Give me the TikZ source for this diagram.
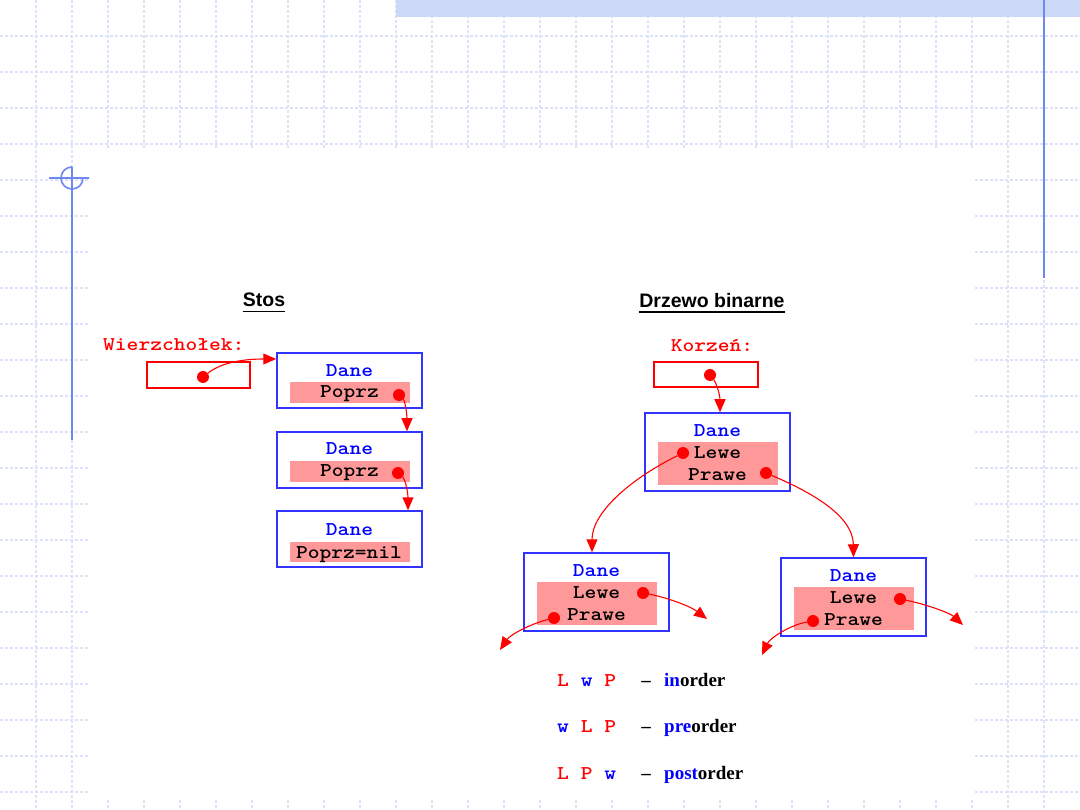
\documentclass[tikz,border=0pt]{standalone}
\usepackage{fontspec}
\setmainfont{Liberation Serif}
\newfontfamily\monof{Latin Modern Mono Light}[FakeStretch=1.15]
\newfontfamily\sansf{Liberation Sans}
\usetikzlibrary{arrows.meta}
\definecolor{ramka}{HTML}{3333FF}
\definecolor{pole}{HTML}{FF9999}
\definecolor{siatka}{HTML}{DCE3F8}
\definecolor{pasek}{HTML}{CCD8F8}
\definecolor{ozdoba}{HTML}{6F87F2}
\tikzset{
  rec/.style={draw=ramka,line width=1.5pt,minimum width=145pt,inner sep=0pt},
  fld/.style={fill=pole,minimum width=120pt,inner sep=0pt},
  ptrbox/.style={draw=red,line width=1.3pt,minimum width=103pt,minimum height=26pt,inner sep=0pt},
  mono/.style={font=\monof\bfseries\fontsize{19.5}{22}\selectfont,inner sep=0pt,anchor=base},
  dane/.style={mono,text=blue},
  dot/.style={circle,fill=red,inner sep=0pt,minimum size=12pt},
  link/.style={red,line width=1.1pt,-{Triangle[length=13pt,width=11pt]}},
  title/.style={font=\sansf\bfseries\fontsize{19.5}{22}\selectfont,inner sep=0pt,anchor=base},
  word/.style={font=\bfseries\fontsize{19}{22}\selectfont,inner sep=0pt,anchor=base west},
  grid line/.style={siatka,line width=1.2pt,dash pattern=on 3pt off 2pt},
}
\newcommand{\rekord}[4]{% name, x, y, height
  \node[rec,minimum height=#4pt] (#1) at (#2,#3) {};
  \node[fld,minimum height=#4pt-35pt] (#1f) at (#2+0.5,#3+11.5) {};}

\begin{document}
\begin{tikzpicture}[x=1pt,y=-1pt]
  \useasboundingbox (0,0) rectangle (1080,810);
  \fill[white] (0,0) rectangle (1080,810);
  \foreach \y in {36,72,...,792} \draw[grid line] (0,\y) -- (1080,\y);
  \foreach \x in {36,72,...,1044} \draw[grid line] (\x,0) -- (\x,810);
  \fill[white] (90,148) rectangle (973,800);
  \fill[pasek] (396,0) rectangle (1080,17);
  \draw[ozdoba,line width=2pt] (1044,0) -- (1044,278);
  \draw[ozdoba,line width=1.6pt] (72,167) arc[start angle=90,end angle=360,radius=11pt]
    (49,178) -- (89,178) (72,167) -- (72,440);

  % stos
  \node[title] (stos) at (264,307) {Stos};
  \draw[line width=1.5pt] ([yshift=-4.5pt]stos.base west) -- ([yshift=-4.5pt]stos.base east);
  \node[mono,text=red,anchor=base west] (wierz) at (103,351) {Wierzchołek:};
  \node[ptrbox] (wptr) at (198.5,375) {};
  \node[dot] (wdot) at (203,377) {};

  \node[rec,minimum height=55pt] (s1) at (349.5,380.5) {};
  \node[fld,minimum height=21pt] (s1f) at (350,392.5) {};
  \node[dane] at (349.5,377) {Dane};
  \node[mono] at (349.5,398) {Poprz};
  \node[dot] (s1dot) at (399,395) {};

  \node[rec,minimum height=56pt] (s2) at (349.5,460) {};
  \node[fld,minimum height=21pt] (s2f) at (350,471.5) {};
  \node[dane] at (349.5,454) {Dane};
  \node[mono] at (349.5,476.5) {Poprz};
  \node[dot] (s2dot) at (398,473) {};

  \node[rec,minimum height=56pt] (s3) at (349.5,539) {};
  \node[fld,minimum height=20pt] (s3f) at (350,552) {};
  \node[dane] at (349.5,535) {Dane};
  \node[mono] at (349,558) {Poprz=nil};

  \draw[link] (wdot) .. controls (222,362) and (245,359) .. ([yshift=21.5pt]s1.west);
  \draw[link] (s1dot) .. controls (405,401) and (407,414) .. ([xshift=57.5pt]s2.north);
  \draw[link] (s2dot) .. controls (405,479) and (408,492) .. ([xshift=58.5pt]s3.north);

  % drzewo
  \node[title] (drzewo) at (712,307.5) {Drzewo binarne};
  \draw[line width=1.5pt] ([yshift=-4.5pt]drzewo.base west) -- ([yshift=-4.5pt]drzewo.base east);
  \node[mono,text=red] (korzen) at (712,352) {Korzeń:};
  \node[ptrbox,minimum width=104pt,minimum height=25pt] (kptr) at (706,374.5) {};
  \node[dot] (kdot) at (710,375) {};

  \rekord{root}{717.5}{452}{78}
  \node[dane] at (717.5,436.5) {Dane};
  \node[mono] at (717.5,458) {Lewe};
  \node[mono] at (717.5,480) {Prawe};
  \node[dot] (rootL) at (683,453) {};
  \node[dot] (rootP) at (766,473) {};

  \rekord{lc}{596.5}{592}{78}
  \node[dane] at (596.5,576) {Dane};
  \node[mono] at (596.5,598) {Lewe};
  \node[mono] at (596.5,620.5) {Prawe};
  \node[dot] (lcL) at (643,593) {};
  \node[dot] (lcP) at (554,618) {};

  \rekord{rc}{853.5}{597}{78}
  \node[dane] at (853.5,581) {Dane};
  \node[mono] at (853.5,603) {Lewe};
  \node[mono] at (853.5,625.5) {Prawe};
  \node[dot] (rcL) at (900,599) {};
  \node[dot] (rcP) at (813,621) {};

  \coordinate (lcLend) at (707,619);
  \coordinate (lcPend) at (500,650);
  \coordinate (rcLend) at (963,625);
  \coordinate (rcPend) at (762,655);

  \draw[link] (kdot) .. controls (717,384) and (720,396) .. ([xshift=2.5pt]root.north);
  \draw[link] (rootL) .. controls (632,478) and (592,512) .. ([xshift=-4.5pt]lc.north);
  \draw[link] (rootP) .. controls (806,490) and (853,514) .. (rc.north);
  \draw[link] (lcL) .. controls (665,597) and (690,606) .. (lcLend);
  \draw[link] (lcP) .. controls (530,624) and (510,635) .. (lcPend);
  \draw[link] (rcL) .. controls (925,604) and (950,613) .. (rcLend);
  \draw[link] (rcP) .. controls (790,625) and (770,638) .. (rcPend);

  % porzadki
  \node[mono,anchor=base west] (k1) at (557,686) {\color{red}L \color{blue}w \color{red}P};
  \node[mono,anchor=base west] (k2) at (557,732.5) {\color{blue}w \color{red}L \color{red}P};
  \node[mono,anchor=base west] (k3) at (557,779) {\color{red}L \color{red}P \color{blue}w};
  \foreach \y/\n in {686/1,732.5/2,779/3} \node[word,anchor=base] (d\n) at (646,\y) {--};
  \node[word] (n1) at (664,686) {\color{blue}in\color{black}order};
  \node[word] (n2) at (664,732.5) {\color{blue}pre\color{black}order};
  \node[word] (n3) at (664,779) {\color{blue}post\color{black}order};
\end{tikzpicture}
\end{document}
